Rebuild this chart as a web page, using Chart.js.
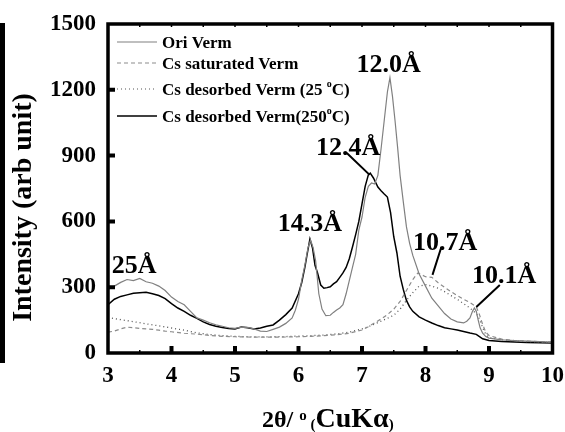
<!DOCTYPE html>
<html><head><meta charset="utf-8">
<script src="https://cdn.jsdelivr.net/npm/chart.js@4/dist/chart.umd.min.js"></script>
<style>html,body{margin:0;padding:0;background:#fff;}#wrap{width:565px;height:432px;position:relative;}</style>
</head><body><div id="wrap"><canvas id="c" width="565" height="432"></canvas></div>
<script>
// ---------- data ----------
const seriesNames = ['Ori Verm', 'Cs saturated Verm', 'Cs desorbed Verm (25 °C)', 'Cs desorbed Verm(250°C)'];

const oriX = [3.0,3.1,3.2,3.3,3.4,3.5,3.6,3.7,3.8,3.9,4.0,4.1,4.2,4.3,4.4,4.5,4.6,4.7,4.8,4.9,5.0,5.1,5.2,5.3,5.4,5.5,5.6,5.7,5.8,5.9,5.95,6.0,6.05,6.1,6.15,6.19,6.23,6.27,6.32,6.37,6.43,6.5,6.55,6.6,6.65,6.7,6.75,6.8,6.85,6.9,6.95,7.0,7.05,7.1,7.15,7.2,7.25,7.3,7.35,7.4,7.44,7.48,7.52,7.56,7.6,7.65,7.7,7.75,7.8,7.9,8.0,8.1,8.2,8.3,8.4,8.5,8.6,8.65,8.7,8.74,8.77,8.8,8.83,8.86,8.9,8.95,9.0,9.2,9.4,9.6,9.8,10.0];
const oriY = [290,305,322,335,330,340,325,318,305,285,255,235,220,190,160,150,138,128,122,115,112,118,117,110,100,98,108,118,135,160,195,245,330,400,480,515,480,420,270,200,170,172,185,196,205,220,270,330,390,450,560,620,710,760,775,770,810,930,1060,1190,1255,1170,1060,940,810,690,575,500,445,360,305,250,215,180,155,142,137,145,160,190,205,190,150,115,90,75,68,60,57,54,52,50];

const satX = [3.0,3.1,3.2,3.3,3.4,3.5,3.6,3.7,3.8,3.9,4.0,4.2,4.4,4.6,4.8,5.0,5.2,5.4,5.6,5.8,6.0,6.2,6.4,6.6,6.8,7.0,7.1,7.2,7.3,7.4,7.5,7.6,7.7,7.8,7.88,7.95,8.0,8.1,8.2,8.3,8.4,8.5,8.6,8.7,8.8,8.85,8.9,8.95,9.0,9.2,9.4,9.6,9.8,10.0];
const satY = [95,100,110,118,115,112,110,108,104,100,97,90,86,80,76,74,73,72,72,73,74,76,79,83,90,105,120,138,155,175,200,235,285,335,365,355,348,345,320,300,280,262,245,230,210,175,130,95,80,63,57,54,52,50];

const des25X = [3.0,3.2,3.4,3.6,3.8,4.0,4.2,4.4,4.6,4.8,5.0,5.2,5.4,5.6,5.8,6.0,6.2,6.4,6.6,6.8,7.0,7.1,7.2,7.3,7.4,7.5,7.6,7.7,7.8,7.9,8.0,8.1,8.2,8.3,8.4,8.5,8.6,8.7,8.8,8.85,8.9,8.95,9.0,9.2,9.4,9.6,9.8,10.0];
const des25Y = [162,152,143,133,124,114,104,92,84,79,76,74,73,74,75,77,79,82,87,95,110,120,132,145,158,172,200,240,275,305,312,305,295,280,262,245,225,205,180,155,115,85,70,60,55,52,50,48];

const des250X = [3.0,3.1,3.2,3.3,3.4,3.5,3.6,3.7,3.8,3.9,4.0,4.1,4.2,4.3,4.4,4.5,4.6,4.7,4.8,4.9,5.0,5.1,5.2,5.3,5.4,5.5,5.6,5.7,5.8,5.9,6.0,6.05,6.1,6.13,6.18,6.22,6.26,6.3,6.35,6.4,6.45,6.5,6.55,6.6,6.65,6.7,6.75,6.8,6.85,6.9,6.95,7.0,7.05,7.1,7.13,7.18,7.25,7.3,7.35,7.4,7.45,7.5,7.55,7.6,7.65,7.7,7.75,7.8,7.9,8.0,8.1,8.2,8.3,8.4,8.5,8.6,8.7,8.8,8.85,8.9,9.0,9.2,9.4,9.6,9.8,10.0];
const des250Y = [220,245,258,265,272,275,277,270,262,248,225,205,190,172,158,142,130,122,116,112,110,118,115,110,114,122,128,150,175,205,270,320,390,440,520,480,400,365,310,295,298,302,315,325,345,365,390,430,483,540,600,680,760,812,820,798,757,740,725,711,640,530,456,350,290,240,210,190,165,150,137,125,115,110,105,98,91,85,75,65,57,52,50,48,47,46];

const xTicks = [3,4,5,6,7,8,9,10];
const yTicks = [0,300,600,900,1200,1500];
const xMinorTicks = [3.5,4.5,5.5,6.5,7.5,8.5,9.5];

// peak labels: text, anchor (x, y in data units)
const peakText = ['25Å','14.3Å','12.4Å','12.0Å','10.7Å','10.1Å'];
const peakAtX  = [3.41, 6.18, 6.78, 7.42, 8.31, 9.24];
const peakAtY  = [365, 556, 903, 1281, 470, 319];
// leader lines from label to curve (data units)
const leaderFromX = [6.76, 8.25, 9.17];
const leaderFromY = [912, 483, 310];
const leaderToX   = [7.12, 8.11, 8.80];
const leaderToY   = [812, 356, 210];

// ---------- styling ----------
const SERIF = '"Liberation Serif", "Times New Roman", serif';
const styles = [
  {color:'#808080', dash:[], width:1.2},
  {color:'#8c8c8c', dash:[4,3], width:1.2},
  {color:'#555555', dash:[1,3], width:1.3},
  {color:'#000000', dash:[], width:1.5}
];

function pts(xs, ys){ return xs.map((x,i)=>({x:x, y:ys[i]})); }
const allX = [oriX, satX, des25X, des250X];
const allY = [oriY, satY, des25Y, des250Y];

const datasets = seriesNames.map((name,i)=>({
  label: name,
  data: pts(allX[i], allY[i]),
  borderColor: styles[i].color,
  borderDash: styles[i].dash,
  borderWidth: styles[i].width,
  pointRadius: 0,
  tension: 0,
  fill: false
}));

function drawRich(ctx, parts, x, y){
  let cx = x;
  for (const p of parts){
    ctx.font = p[1];
    ctx.fillText(p[0], cx, y + (p[2]||0));
    cx += ctx.measureText(p[0]).width;
  }
  return cx;
}

const decor = {
  id:'decor',
  afterDraw(chart){
    const ctx = chart.ctx, a = chart.chartArea;
    const xs = chart.scales.x, ys = chart.scales.y;
    ctx.save();
    ctx.fillStyle = '#000'; ctx.strokeStyle = '#000';
    // frame
    ctx.lineWidth = 3.5;
    ctx.strokeRect(a.left, a.top, a.right - a.left, a.bottom - a.top);
    // major ticks inward
    ctx.lineWidth = 4;
    ctx.beginPath();
    xTicks.forEach(v=>{ if(v>3 && v<10){ const px = xs.getPixelForValue(v); ctx.moveTo(px, a.bottom); ctx.lineTo(px, a.bottom-7);} });
    yTicks.forEach(v=>{ if(v>0 && v<1500){ const py = ys.getPixelForValue(v); ctx.moveTo(a.left, py); ctx.lineTo(a.left+7, py);} });
    ctx.stroke();
    // minor ticks
    ctx.lineWidth = 1.5;
    ctx.beginPath();
    xMinorTicks.forEach(v=>{ const px = xs.getPixelForValue(v); ctx.moveTo(px, a.bottom); ctx.lineTo(px, a.bottom-3); ctx.moveTo(px, a.top); ctx.lineTo(px, a.top+3);} );
    xTicks.forEach(v=>{ if(v>3 && v<10){ const px = xs.getPixelForValue(v); ctx.moveTo(px, a.top); ctx.lineTo(px, a.top+3);} });
    ctx.stroke();
    // left decorative bar
    ctx.fillRect(0, a.top - 1, 5, 340);

    // legend
    const rows = [42, 63, 89, 116];
    seriesNames.forEach((name,i)=>{
      const y = rows[i];
      ctx.strokeStyle = styles[i].color;
      ctx.setLineDash(styles[i].dash);
      ctx.lineWidth = i===3 ? 1.5 : 1.2;
      ctx.beginPath(); ctx.moveTo(117, y); ctx.lineTo(157, y); ctx.stroke();
      ctx.setLineDash([]);
      ctx.fillStyle = '#000';
      ctx.textAlign = 'left'; ctx.textBaseline = 'alphabetic';
      const f = 'bold 17px ' + SERIF, fs = 'bold 10px ' + SERIF;
      const idx = name.indexOf('°');
      if (idx < 0) { drawRich(ctx, [[name, f]], 162, y+6); }
      else { drawRich(ctx, [[name.slice(0,idx), f], ['o', fs, -8], [name.slice(idx+1), f]], 162, y+6); }
    });

    // peak labels
    ctx.fillStyle = '#000';
    ctx.font = 'bold 26px ' + SERIF;
    ctx.textAlign = 'center'; ctx.textBaseline = 'alphabetic';
    peakText.forEach((t,i)=>{
      ctx.fillText(t, xs.getPixelForValue(peakAtX[i]), ys.getPixelForValue(peakAtY[i]));
    });
    ctx.lineWidth = 2; ctx.strokeStyle = '#000';
    ctx.beginPath();
    leaderFromX.forEach((v,i)=>{
      ctx.moveTo(xs.getPixelForValue(v), ys.getPixelForValue(leaderFromY[i]));
      ctx.lineTo(xs.getPixelForValue(leaderToX[i]), ys.getPixelForValue(leaderToY[i]));
    });
    ctx.stroke();

    // y-axis title
    ctx.save();
    ctx.translate(31, (a.top + a.bottom)/2 + 19);
    ctx.rotate(-Math.PI/2);
    ctx.font = 'bold 28px ' + SERIF;
    ctx.textAlign = 'center'; ctx.textBaseline = 'alphabetic';
    ctx.fillText('Intensity (arb unit)', 0, 0);
    ctx.restore();

    // x-axis title
    ctx.textAlign = 'left'; ctx.textBaseline = 'alphabetic';
    drawRich(ctx, [
      ['2θ/ ', 'bold 24px ' + SERIF, 0],
      ['o', 'bold 15px ' + SERIF, -7],
      [' (', 'bold 15px ' + SERIF, 2],
      ['CuKα', 'bold 28px ' + SERIF, 0],
      [')', 'bold 15px ' + SERIF, 2]
    ], 262, 427);
    ctx.restore();
  }
};

new Chart(document.getElementById('c'), {
  type:'line',
  data:{ datasets: datasets },
  options:{
    responsive:false, animation:false, devicePixelRatio:1,
    layout:{ padding:{ left:0, top:24, right:12, bottom:0 } },
    plugins:{ legend:{display:false}, tooltip:{enabled:false} },
    scales:{
      x:{
        type:'linear', min:3, max:10,
        afterBuildTicks(s){ s.ticks = xTicks.map(v=>({value:v})); },
        afterFit(s){ s.height = 79; },
        grid:{display:false}, border:{display:false},
        ticks:{ padding:1, color:'#000', font:{family:SERIF, size:23, weight:'bold'}, maxRotation:0, callback:v=>String(v) }
      },
      y:{
        type:'linear', min:0, max:1500,
        afterBuildTicks(s){ s.ticks = yTicks.map(v=>({value:v})); },
        afterFit(s){ s.width = 108; },
        grid:{display:false}, border:{display:false},
        ticks:{ padding:4, color:'#000', font:{family:SERIF, size:23, weight:'bold'}, callback:v=>String(v) }
      }
    }
  },
  plugins:[decor]
});
</script></body></html>
